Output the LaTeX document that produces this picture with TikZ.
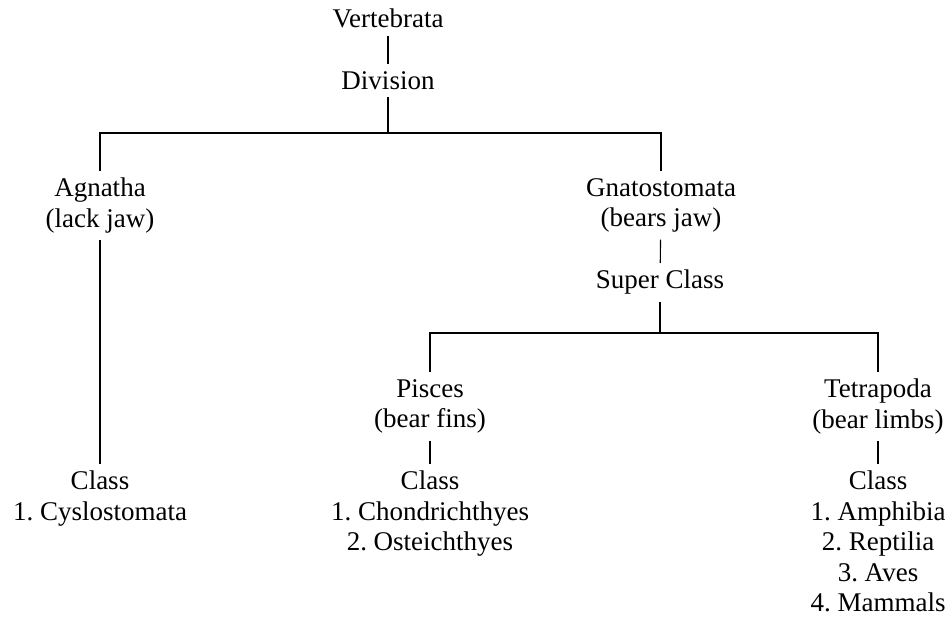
\documentclass[tikz,border=0pt]{standalone}
\usepackage{fontspec}
\setmainfont{Liberation Serif}
\usetikzlibrary{positioning}
\frenchspacing

\begin{document}
\begin{tikzpicture}[x=1pt, y=-1pt,
  font=\fontsize{27}{30.5}\selectfont,
  taxon/.style={align=center, anchor=north, inner xsep=2pt, inner ysep=7pt},
  link/.style={line width=1.1pt}]
  \useasboundingbox (0,0) rectangle (945,617);
  % top of the tree
  \node[taxon] (vert) at (388,2)   {Vertebrata};
  \node[taxon] (div)  at (388,64)  {Division};
  \node[taxon] (agn)  at (100,171) {Agnatha\\(lack jaw)};
  \node[taxon] (gna)  at (661,171) {Gnatostomata\\(bears jaw)};
  \node[taxon] (sup)  at (660,263) {Super Class};
  \node[taxon] (pis)  at (430,372) {Pisces\\(bear fins)};
  \node[taxon] (tet)  at (878,372) {Tetrapoda\\(bear limbs)};
  % classes
  \node[taxon] (clsA) at (100,464) {Class\\1. Cyslostomata};
  \node[taxon] (clsP) at (430,464) {Class\\1. Chondrichthyes\\2. Osteichthyes};
  \node[taxon] (clsT) at (878,464) {Class\\1. Amphibia\\2. Reptilia\\3. Aves\\4. Mammals};
  \coordinate (fork1) at (div.south |- 0,133);
  \coordinate (fork2) at (sup.south |- 0,333);
  \path[link]
  (vert) edge (div)
  (div.south) edge (fork1)
  (gna) edge (sup)
  (sup.south) edge (fork2)
  (agn) edge (clsA)
  (pis) edge (clsP)
  (tet) edge (clsT)
  ;
  \draw[link] (agn.north) |- (fork1) -| (gna.north);
  \draw[link] (pis.north) |- (fork2) -| (tet.north);
\end{tikzpicture}
\end{document}
